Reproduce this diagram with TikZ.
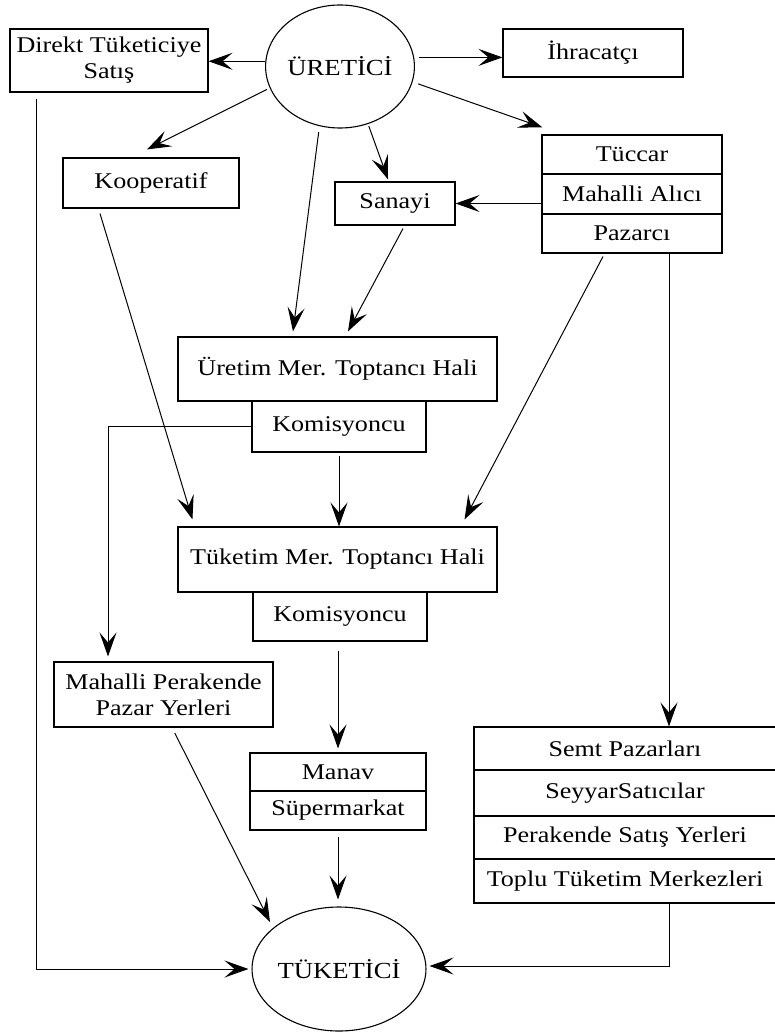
\documentclass[tikz,border=0pt]{standalone}
\usepackage{fontspec}
\setmainfont{Liberation Serif}[FakeStretch=1.16]
\usetikzlibrary{arrows.meta,calc,shapes.geometric}
\begin{document}
\begin{tikzpicture}[x=1pt,y=-1pt,
  box/.style={draw,line width=1.1pt,rectangle,inner sep=0pt,
    font=\fontsize{22.5}{26}\selectfont,align=center},
  oval/.style={draw,line width=1.1pt,ellipse,inner sep=0pt,
    font=\fontsize{23}{26}\selectfont},
  arr/.style={line width=1pt,-{Stealth[length=24pt,width=17pt,inset=10pt]}}]
\useasboundingbox (0,0) rectangle (774,1032);

% producer and consumer
\node[oval,minimum width=146pt,minimum height=123pt] (uret) at (340,66.5) {ÜRETİCİ};
\node[oval,minimum width=147pt,minimum height=124pt] (tuk) at (339,969) {TÜKETİCİ};

% top row
\node[box,minimum width=198pt,minimum height=63pt] (direkt) at (109,60.5) {Direkt Tüketiciye\\Satış};
\node[box,minimum width=180pt,minimum height=48pt] (ihr) at (593,53) {İhracatçı};

% merchants stack
\node[box,minimum width=180pt,minimum height=39pt] (tuccar) at (632,154.5) {Tüccar};
\node[box,minimum width=180pt,minimum height=40pt] (mahalli) at (632,194) {Mahalli Alıcı};
\node[box,minimum width=180pt,minimum height=39pt] (pazarci) at (632,233.5) {Pazarcı};

\node[box,minimum width=120pt,minimum height=43pt] (sanayi) at (395,203.5) {Sanayi};
\node[box,minimum width=176pt,minimum height=50pt] (koop) at (151,183) {Kooperatif};

% wholesale halls
\node[box,minimum width=319pt,minimum height=64pt] (uretim) at (337.5,369) {Üretim Mer. Toptancı Hali};
\node[box,minimum width=174pt,minimum height=51pt] (kom1) at (339,426.5) {Komisyoncu};
\node[box,minimum width=319pt,minimum height=65pt] (tuketim) at (337.5,559.5) {Tüketim Mer. Toptancı Hali};
\node[box,minimum width=174pt,minimum height=49pt] (kom2) at (340,616.5) {Komisyoncu};

% retail
\node[box,minimum width=219pt,minimum height=65pt] (mahper) at (163.5,694.5) {Mahalli Perakende\\Pazar Yerleri};
\node[box,minimum width=176pt,minimum height=38pt] (manav) at (338,772) {Manav};
\node[box,minimum width=176pt,minimum height=39pt] (super) at (338,810.5) {Süpermarkat};

\node[box,minimum width=302pt,minimum height=43pt] (semt) at (625,748.5) {Semt Pazarları};
\node[box,minimum width=302pt,minimum height=46pt] (seyyar) at (625,793) {SeyyarSatıcılar};
\node[box,minimum width=302pt,minimum height=43pt] (perak) at (625,837.5) {Perakende Satış Yerleri};
\node[box,minimum width=302pt,minimum height=44pt] (toplu) at (625,881) {Toplu Tüketim Merkezleri};

% flows from the producer
\draw[arr] (uret.176.5) -- (uret.176.5 -| direkt.east);
\draw[arr,shorten <=5pt] (uret.7) -- (uret.7 -| ihr.west);
\draw[arr,shorten <=6pt] (uret.-12) -- ($(tuccar.north west)+(1,-7)$);
\draw[arr,shorten <=3pt] (uret.197.7) -- ($(koop.north)+(-4,-8)$);
\draw[arr,shorten <=6pt] (uret.251.4) -- ($(uretim.north)+(-44.5,-5)$);
\draw[arr,shorten <=2pt] (uret.-64.4) -- ($(sanayi.north)+(-7,-2)$);

% intermediate flows
\draw[arr] (mahalli.west |- sanayi.east) -- (sanayi.east);
\draw[arr] ($(sanayi.south)+(8,3)$) -- ($(uretim.north)+(10.5,-5)$);
\draw[arr] ($(koop.south)+(-51,5)$) -- ($(tuketim.north west)+(15,-7)$);
\draw[arr] ($(pazarci.south)+(-29,3)$) -- ($(tuketim.north east)+(-33,-7)$);
\draw[arr] ($(pazarci.south)+(37,0)$) -- ($(semt.north)+(44,0)$);
\draw[arr,shorten <=3pt] (kom1.south) -- (kom1.south |- tuketim.north);
\draw[arr] (kom1.west) -| ($(mahper.north)+(-55.5,-5)$);
\draw[arr,shorten <=9pt] (kom2.south -| manav.north) -- ($(manav.north)+(0,-4)$);

% flows to the consumer
\draw[arr,shorten <=6pt,shorten >=7pt] (super.south) -- (super.south |- tuk.north);
\draw[arr,shorten <=6pt] ($(mahper.south)+(8.5,0)$) -- ($(tuk.center)+(-69,-47)$);
\draw[arr] ($(direkt.south west)+(27,6)$) |- ($(tuk.west)+(-3,0)$);
\draw[arr] ($(toplu.south)+(44,0)$) |- ($(tuk.east)+(3,-3)$);
\end{tikzpicture}
\end{document}
